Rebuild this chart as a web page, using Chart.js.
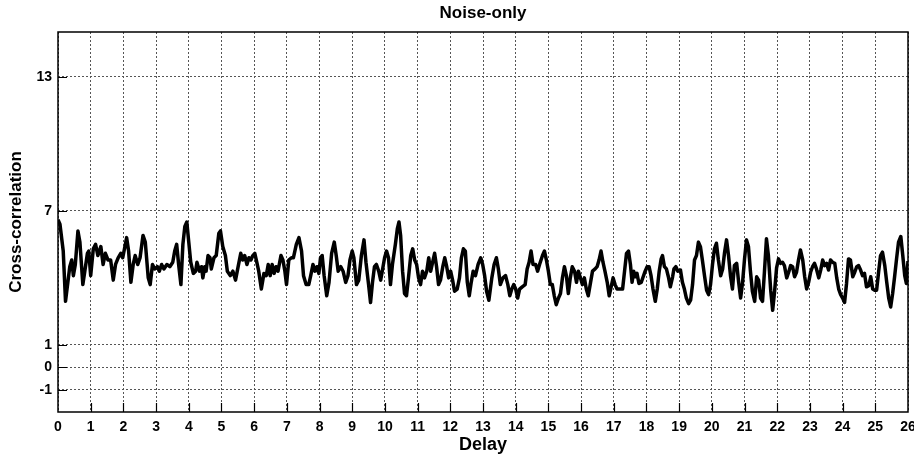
<!DOCTYPE html>
<html>
<head>
<meta charset="utf-8">
<script src="https://cdn.jsdelivr.net/npm/chart.js@4/dist/chart.umd.min.js"></script>
<style>
  html, body { margin: 0; padding: 0; background: #fff; }
  #wrap { width: 914px; height: 456px; }
</style>
</head>
<body>
<div id="wrap"><canvas id="xcorr" width="914" height="456"></canvas></div>
<script>
// delay (x) and cross-correlation (y)
const delay = [
  0.00, 0.06, 0.16, 0.23, 0.31, 0.36, 0.42, 0.47, 0.53, 0.61, 0.67, 0.76, 0.82, 0.90, 0.94,
  1.00, 1.08, 1.15, 1.22, 1.31, 1.38, 1.45, 1.53, 1.61, 1.69, 1.76, 1.84, 1.92, 1.98,
  2.10, 2.16, 2.23, 2.30, 2.36, 2.44, 2.51, 2.60, 2.67, 2.76, 2.82, 2.89, 2.96,
  3.04, 3.10, 3.17, 3.24, 3.33, 3.42, 3.51, 3.57, 3.63, 3.69, 3.76, 3.82, 3.88, 3.94,
  4.00, 4.06, 4.14, 4.21, 4.25, 4.33, 4.39, 4.43, 4.49, 4.53, 4.59, 4.65, 4.69, 4.77, 4.84, 4.92, 4.97,
  5.04, 5.12, 5.18, 5.27, 5.35, 5.43, 5.51, 5.59, 5.65, 5.71, 5.78, 5.84, 5.90, 5.96,
  6.02, 6.08, 6.14, 6.22, 6.30, 6.37, 6.43, 6.49, 6.55, 6.61, 6.67, 6.73, 6.82, 6.88, 6.94, 6.99,
  7.06, 7.14, 7.20, 7.29, 7.37, 7.45, 7.51, 7.59, 7.67, 7.73, 7.80, 7.86, 7.92, 7.98,
  8.03, 8.08, 8.14, 8.22, 8.29, 8.37, 8.45, 8.51, 8.57, 8.65, 8.72, 8.80, 8.87, 8.93,
  9.00, 9.05, 9.13, 9.20, 9.28, 9.36, 9.42, 9.50, 9.56, 9.62, 9.68, 9.74, 9.81, 9.87, 9.93, 9.99,
  10.05, 10.11, 10.17, 10.23, 10.32, 10.38, 10.43, 10.48, 10.54, 10.60, 10.66, 10.72, 10.79, 10.85, 10.91, 10.97,
  11.03, 11.09, 11.15, 11.21, 11.28, 11.34, 11.40, 11.46, 11.52, 11.58, 11.64, 11.70, 11.77, 11.83, 11.89, 11.95,
  12.01, 12.07, 12.13, 12.21, 12.28, 12.34, 12.40, 12.46, 12.52, 12.58, 12.64, 12.70, 12.77, 12.85, 12.93, 12.99,
  13.05, 13.11, 13.18, 13.27, 13.34, 13.41, 13.47, 13.53, 13.61, 13.69, 13.76, 13.82, 13.88, 13.94,
  14.00, 14.06, 14.12, 14.20, 14.29, 14.35, 14.41, 14.47, 14.53, 14.61, 14.67, 14.73, 14.82, 14.88, 14.94,
  15.00, 15.06, 15.12, 15.18, 15.24, 15.31, 15.37, 15.43, 15.49, 15.55, 15.61, 15.67, 15.73, 15.80, 15.86, 15.92, 15.98,
  16.04, 16.10, 16.16, 16.22, 16.29, 16.35, 16.43, 16.49, 16.55, 16.61, 16.67, 16.73, 16.80, 16.86, 16.92, 16.98,
  17.04, 17.10, 17.18, 17.27, 17.33, 17.39, 17.45, 17.51, 17.56, 17.61, 17.66, 17.71, 17.77, 17.84, 17.90, 17.96,
  18.02, 18.08, 18.14, 18.20, 18.27, 18.33, 18.39, 18.45, 18.49, 18.55, 18.61, 18.67, 18.73, 18.80, 18.84, 18.90, 18.96,
  19.04, 19.10, 19.16, 19.22, 19.29, 19.35, 19.41, 19.47, 19.53, 19.59, 19.65, 19.71, 19.78, 19.84, 19.90, 19.96,
  20.02, 20.08, 20.14, 20.20, 20.27, 20.33, 20.39, 20.45, 20.51, 20.57, 20.63, 20.69, 20.76, 20.82, 20.88, 20.94,
  21.00, 21.06, 21.12, 21.18, 21.24, 21.31, 21.37, 21.43, 21.49, 21.55, 21.61, 21.67, 21.73, 21.80, 21.86, 21.92, 21.98,
  22.04, 22.10, 22.16, 22.22, 22.29, 22.35, 22.41, 22.47, 22.53, 22.59, 22.65, 22.71, 22.78, 22.84, 22.90, 22.96,
  23.02, 23.08, 23.14, 23.20, 23.27, 23.33, 23.39, 23.45, 23.51, 23.57, 23.63, 23.69, 23.76, 23.82, 23.88, 23.94,
  24.00, 24.06, 24.12, 24.18, 24.24, 24.31, 24.37, 24.43, 24.49, 24.55, 24.61, 24.67, 24.73, 24.80, 24.86, 24.92, 24.98,
  25.04, 25.10, 25.16, 25.22, 25.29, 25.35, 25.41, 25.47, 25.53, 25.59, 25.65, 25.71, 25.78, 25.84, 25.90, 25.95, 26.00
];
const xcorr = [
  6.6, 6.4, 5.2, 2.95, 3.9, 4.5, 4.8, 4.1, 4.6, 6.1, 5.6, 3.7, 4.3, 5.1, 5.2,
  4.1, 5.3, 5.5, 5.0, 5.4, 4.6, 5.1, 4.8, 4.8, 3.9, 4.6, 4.9, 5.1, 4.9,
  5.8, 5.2, 3.8, 4.6, 5.0, 4.6, 4.9, 5.9, 5.6, 4.0, 3.7, 4.6, 4.4,
  4.5, 4.3, 4.6, 4.4, 4.6, 4.5, 4.7, 5.2, 5.5, 4.6, 3.7, 5.5, 6.3, 6.5,
  5.6, 4.7, 4.2, 4.3, 4.7, 4.3, 4.5, 4.0, 4.5, 4.3, 5.0, 4.9, 4.4, 4.9, 5.0, 6.0, 6.1,
  5.4, 5.0, 4.3, 4.1, 4.3, 3.9, 4.5, 5.1, 4.8, 5.0, 4.6, 4.9, 4.8, 5.0,
  5.1, 4.7, 4.3, 3.5, 4.2, 4.1, 4.6, 4.1, 4.6, 4.2, 4.5, 4.3, 5.0, 4.8, 4.3, 3.7,
  4.8, 4.9, 4.9, 5.5, 5.8, 5.2, 4.1, 3.7, 3.7, 4.1, 4.6, 4.3, 4.5, 4.2,
  4.9, 5.0, 4.1, 3.2, 3.8, 5.1, 5.6, 5.0, 4.3, 4.5, 4.3, 3.8, 4.1, 4.8,
  5.2, 4.9, 3.7, 3.9, 5.0, 5.7, 4.7, 3.7, 2.9, 3.8, 4.5, 4.6, 4.3, 3.9, 4.4, 4.9,
  5.2, 4.9, 3.7, 4.6, 5.5, 6.2, 6.5, 5.9, 4.3, 3.3, 3.2, 4.0, 5.0, 5.3, 4.8, 4.6,
  4.0, 3.7, 4.3, 4.0, 4.3, 4.9, 4.3, 4.7, 5.1, 4.5, 3.7, 3.9, 4.5, 4.9, 4.5, 4.0,
  4.3, 3.9, 3.4, 3.5, 4.0, 4.9, 5.3, 5.2, 3.8, 3.2, 3.8, 4.3, 4.1, 4.6, 4.9, 4.6,
  4.1, 3.4, 3.0, 4.0, 4.6, 4.9, 4.4, 3.7, 4.0, 4.1, 3.7, 3.2, 3.5, 3.7,
  3.5, 3.1, 3.5, 3.6, 3.7, 4.4, 4.7, 5.2, 4.6, 4.6, 4.3, 4.6, 5.0, 5.2, 4.8,
  4.3, 3.7, 3.7, 3.2, 2.8, 3.1, 3.3, 4.0, 4.5, 4.1, 3.3, 4.0, 4.5, 4.3, 3.8, 4.3, 4.0,
  3.7, 4.0, 3.5, 3.2, 3.8, 4.3, 4.4, 4.5, 4.8, 5.2, 4.7, 4.3, 3.8, 3.2, 3.6, 4.0,
  3.7, 3.5, 3.5, 3.5, 4.3, 5.1, 5.2, 4.6, 3.8, 4.3, 4.05, 4.2, 3.75, 3.8, 4.05, 4.3,
  4.5, 4.5, 4.1, 3.5, 2.95, 3.5, 4.3, 4.85, 5.0, 4.5, 4.4, 4.05, 3.6, 4.05, 4.4, 4.5, 4.3,
  4.35, 3.8, 3.5, 3.1, 2.85, 3.0, 3.7, 4.8, 5.0, 5.6, 5.4, 4.8, 4.05, 3.45, 3.25, 3.7,
  4.6, 5.3, 5.55, 4.8, 4.1, 4.4, 5.15, 5.7, 5.0, 4.1, 3.5, 4.55, 4.65, 3.8, 3.1, 3.8,
  4.85, 5.7, 5.4, 4.3, 3.4, 2.95, 4.05, 3.9, 3.1, 2.95, 4.3, 5.75, 5.0, 3.45, 2.55, 3.4, 4.45,
  4.85, 4.65, 4.7, 4.55, 4.0, 4.25, 4.55, 4.5, 4.05, 4.25, 4.8, 5.25, 4.8, 4.05, 3.5, 3.8,
  4.25, 4.5, 4.65, 4.4, 4.0, 4.35, 4.8, 4.55, 4.65, 4.35, 4.8, 4.7, 4.65, 4.0, 3.5, 3.25,
  3.1, 2.9, 3.75, 4.85, 4.8, 4.05, 4.25, 4.5, 4.55, 4.35, 4.1, 4.2, 3.6, 3.65, 4.05, 3.5, 3.45,
  3.45, 4.25, 5.0, 5.15, 4.55, 3.8, 3.1, 2.7, 3.3, 4.05, 4.85, 5.6, 5.85, 5.0, 4.1, 3.75, 4.75
];
const yTickValues = [-1, 0, 1, 7, 13];
const xMin = 0, xMax = 26;
const yMin = -2, yMax = 15;

const FONT = "'Liberation Sans', Arial, sans-serif";

// solid box around the plot plus the short inward tick marks
const frame = {
  id: 'frame',
  afterDraw(chart) {
    const { ctx, chartArea: a, scales } = chart;
    ctx.save();
    ctx.strokeStyle = '#000';
    ctx.lineWidth = 1.5;
    ctx.strokeRect(a.left, a.top, a.right - a.left, a.bottom - a.top);
    ctx.lineWidth = 1.2;
    ctx.beginPath();
    for (const v of yTickValues) {
      const y = Math.round(scales.y.getPixelForValue(v)) + 0.5;
      ctx.moveTo(a.left, y); ctx.lineTo(a.left + 9, y);
    }
    for (let v = xMin + 1; v < xMax; v++) {
      const x = Math.round(scales.x.getPixelForValue(v)) + 0.5;
      ctx.moveTo(x, a.bottom); ctx.lineTo(x, a.bottom - 9);
    }
    ctx.stroke();
    ctx.restore();
  }
};

new Chart(document.getElementById('xcorr'), {
  type: 'line',
  data: {
    datasets: [{
      data: delay.map((d, i) => ({ x: d, y: xcorr[i] })),
      borderColor: '#000',
      borderWidth: 3.5,
      borderJoinStyle: 'round',
      pointRadius: 0,
      tension: 0,
      fill: false,
    }],
  },
  options: {
    responsive: false,
    animation: false,
    layout: { padding: { left: 0, right: 6, top: 0, bottom: 0 } },
    plugins: {
      legend: { display: false },
      tooltip: { enabled: false },
      title: {
        display: true,
        text: 'Noise-only',
        fullSize: false,
        color: '#000',
        font: { family: FONT, size: 17, weight: 'bold' },
        padding: { top: 3.6, bottom: 8 },
      },
    },
    scales: {
      x: {
        type: 'linear',
        min: xMin,
        max: xMax,
        ticks: {
          stepSize: 1,
          autoSkip: false,
          maxRotation: 0,
          padding: 7,
          color: '#000',
          font: { family: FONT, size: 14, weight: 'bold' },
        },
        grid: { color: '#555', lineWidth: 1, drawTicks: false },
        border: { display: false, dash: [2, 2] },
        title: {
          display: true,
          text: 'Delay',
          color: '#000',
          font: { family: FONT, size: 18, weight: 'bold' },
          padding: { top: 0, bottom: 0 },
        },
        afterFit(s) { s.height = 44; s.paddingLeft = 0; s.paddingRight = 0; },
      },
      y: {
        min: yMin,
        max: yMax,
        afterBuildTicks(s) { s.ticks = yTickValues.map((v) => ({ value: v })); },
        ticks: {
          padding: 6,
          color: '#000',
          font: { family: FONT, size: 14, weight: 'bold' },
        },
        grid: { color: '#555', lineWidth: 1, drawTicks: false },
        border: { display: false, dash: [2, 2] },
        title: {
          display: true,
          text: 'Cross-correlation',
          color: '#000',
          font: { family: FONT, size: 17, weight: 'bold' },
          padding: { top: 6, bottom: 0 },
        },
        afterFit(s) { s.width = 58; s.paddingTop = 0; s.paddingBottom = 0; },
      },
    },
  },
  plugins: [frame],
});
</script>
</body>
</html>
